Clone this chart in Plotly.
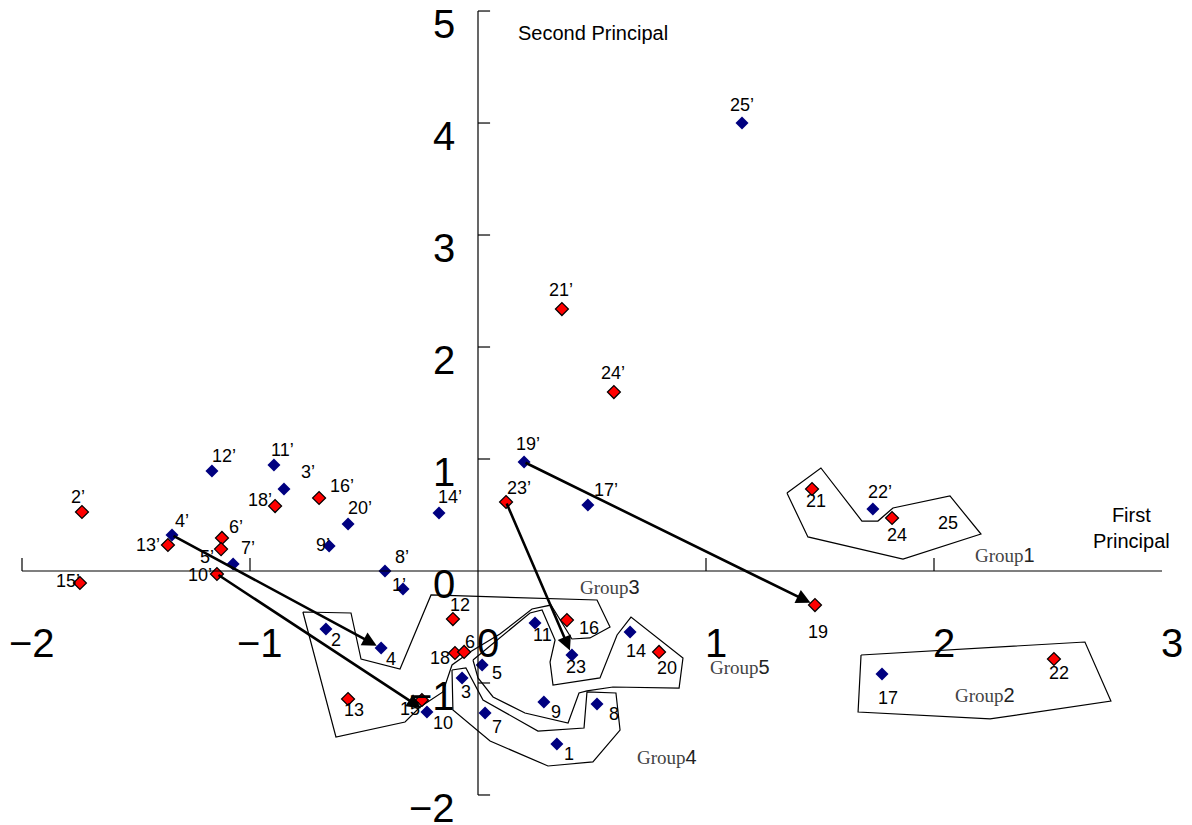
import plotly.graph_objects as go

# ---------------- data ----------------
blue_names = ["12’", "11’", "3’", "20’", "14’", "4’", "7’", "9’", "8’", "1’",
              "19’", "17’", "25’", "22’", "17", "2", "4", "5", "3", "10",
              "7", "9", "8", "1", "11", "23", "14"]
blue_x = [-1.167, -0.895, -0.851, -0.570, -0.171, -1.342, -1.074, -0.653, -0.408, -0.329,
          0.202, 0.482, 1.158, 1.732, 1.772, -0.667, -0.425, 0.018, -0.070, -0.224,
          0.031, 0.289, 0.522, 0.346, 0.250, 0.412, 0.667]
blue_y = [0.893, 0.946, 0.732, 0.420, 0.518, 0.321, 0.063, 0.223, 0.000, -0.161,
          0.973, 0.589, 4.000, 0.554, -0.920, -0.518, -0.688, -0.839, -0.955, -1.259,
          -1.268, -1.170, -1.188, -1.545, -0.464, -0.750, -0.545]

red_names = ["2’", "18’", "16’", "13’", "6’", "5’", "10’", "15’", "23’", "21’",
             "24’", "21", "24", "19", "22", "12", "18", "6", "13", "15", "16", "20"]
red_x = [-1.737, -0.890, -0.697, -1.360, -1.123, -1.127, -1.145, -1.746, 0.123, 0.368,
         0.596, 1.465, 1.816, 1.478, 2.526, -0.110, -0.101, -0.061, -0.570, -0.246, 0.390, 0.794]
red_y = [0.527, 0.580, 0.652, 0.232, 0.295, 0.196, -0.027, -0.107, 0.616, 2.339,
         1.598, 0.732, 0.473, -0.304, -0.786, -0.429, -0.732, -0.723, -1.143, -1.152, -0.438, -0.723]

# label without a visible marker
extra_names = ["25"]
extra_x = [2.061]
extra_y = [0.429]

# arrows: (from, to)
arrow_from = ["4’", "10’", "19’", "23’"]
arrow_to = ["4", "10", "19", "23"]

# group outlines
group1_x = [1.355, 1.504, 1.684, 1.754, 1.820, 2.070, 2.206, 1.864, 1.447]
group1_y = [0.696, 0.920, 0.446, 0.446, 0.563, 0.670, 0.330, 0.107, 0.304]
group2_x = [1.680, 2.662, 2.776, 2.246, 1.667]
group2_y = [-0.750, -0.634, -1.161, -1.321, -1.259]
group3_x = [-0.768, -0.557, -0.513, -0.342, -0.206, 0.522, 0.579, 0.491, 0.412, 0.320,
            0.237, 0.096, -0.035, -0.114, -0.154, -0.254, -0.320, -0.623]
group3_y = [-0.366, -0.375, -0.786, -0.875, -0.214, -0.259, -0.500, -0.598, -0.607, -0.304,
            -0.339, -0.563, -0.723, -0.839, -1.080, -1.214, -1.348, -1.482]
group4_x = [-0.114, -0.053, 0.022, 0.263, 0.465, 0.478, 0.605, 0.623, 0.504, 0.307, 0.053, -0.110]
group4_y = [-0.884, -0.866, -1.152, -1.429, -1.402, -1.080, -1.089, -1.420, -1.705, -1.741, -1.518, -1.241]
group5_x = [-0.022, 0.096, 0.228, 0.281, 0.338, 0.316, 0.329, 0.535, 0.610, 0.671,
            0.899, 0.882, 0.592, 0.478, 0.443, 0.395, 0.206, 0.066, 0.000]
group5_y = [-0.795, -0.598, -0.375, -0.348, -0.616, -0.813, -1.018, -0.955, -0.571, -0.411,
            -0.777, -1.045, -1.036, -1.071, -1.089, -1.357, -1.268, -1.125, -0.955]

group_names = ["Group", "Group", "Group", "Group", "Group"]
group_nums = ["1", "2", "3", "4", "5"]
group_label_x = [2.311, 2.224, 0.579, 0.829, 1.149]
group_label_y = [0.143, -1.107, -0.143, -1.661, -0.857]

x_ticks = [-2, -1, 0, 1, 2, 3]
x_tick_text = ["−2", "−1", "0", "1", "2", "3"]
y_ticks = [-2, -1, 0, 1, 2, 3, 4, 5]
y_tick_text = ["−2", "−1", "0", "1", "2", "3", "4", "5"]

x_title = "First<br>Principal"
y_title = "Second Principal"

# ---------------- layout helpers (pixel offsets of labels) ----------------
label_offset = {
    "12’": (12, -15), "11’": (9, -15), "3’": (24, -17), "20’": (12, -16), "14’": (11, -16),
    "4’": (10, -14), "7’": (15, -16), "9’": (-6, -1), "8’": (17, -14), "1’": (-4, -4),
    "19’": (4, -18), "17’": (18, -15), "25’": (0, -18), "22’": (7, -17), "17": (6, 24),
    "2": (10, 11), "4": (10, 11), "5": (15, 8), "3": (4, 14), "10": (16, 11),
    "7": (12, 14), "9": (12, 10), "8": (17, 10), "1": (12, 10), "11": (7, 12),
    "23": (4, 12), "14": (6, 19),
    "2’": (-4, -15), "18’": (-15, -6), "16’": (23, -12), "13’": (-20, 0), "6’": (14, -11),
    "5’": (-14, 8), "10’": (-17, 1), "15’": (-12, -2), "23’": (13, -14), "21’": (-1, -19),
    "24’": (-1, -19), "21": (4, 12), "24": (5, 17), "19": (3, 27), "22": (5, 14),
    "12": (7, -14), "18": (-15, 5), "6": (6, -10), "13": (6, 11), "15": (-12, 9),
    "16": (22, 8), "20": (8, 16), "25": (0, 0),
}
arrow_standoff = {"4": 5, "10": 7, "19": 5, "23": 5}

LABEL_FONT = dict(family="Liberation Sans, Arial, sans-serif", size=18, color="black")
TICK_FONT = dict(family="Liberation Sans, Arial, sans-serif", size=40, color="black")
TITLE_FONT = dict(family="Liberation Sans, Arial, sans-serif", size=20, color="black")

fig = go.Figure()

# group outlines
for gx, gy in [(group1_x, group1_y), (group2_x, group2_y), (group3_x, group3_y),
               (group4_x, group4_y), (group5_x, group5_y)]:
    fig.add_trace(go.Scatter(x=gx + gx[:1], y=gy + gy[:1], mode="lines",
                             line=dict(color="black", width=1.2),
                             hoverinfo="skip", showlegend=False))

# points
fig.add_trace(go.Scatter(x=blue_x, y=blue_y, mode="markers",
                         marker=dict(symbol="diamond", size=10, color="#000080",
                                     line=dict(width=0)),
                         text=blue_names, showlegend=False))
fig.add_trace(go.Scatter(x=red_x, y=red_y, mode="markers",
                         marker=dict(symbol="diamond", size=10, color="#ff0000",
                                     line=dict(width=1.2, color="black")),
                         text=red_names, showlegend=False))

annotations = []
# point labels
for names, xs, ys in [(blue_names, blue_x, blue_y), (red_names, red_x, red_y),
                      (extra_names, extra_x, extra_y)]:
    for n, x, y in zip(names, xs, ys):
        dx, dy = label_offset.get(n, (8, 12))
        annotations.append(dict(x=x, y=y, text=n, showarrow=False, font=LABEL_FONT,
                                xanchor="center", yanchor="middle",
                                xshift=dx, yshift=-dy))

# arrows
all_pts = {}
for names, xs, ys in [(blue_names, blue_x, blue_y), (red_names, red_x, red_y)]:
    for n, x, y in zip(names, xs, ys):
        all_pts[n] = (x, y)
for a, b in zip(arrow_from, arrow_to):
    (x0, y0), (x1, y1) = all_pts[a], all_pts[b]
    annotations.append(dict(x=x1, y=y1, ax=x0, ay=y0, xref="x", yref="y",
                            axref="x", ayref="y", text="", showarrow=True,
                            arrowhead=2, arrowsize=1.1, arrowwidth=2.6,
                            arrowcolor="black", standoff=arrow_standoff[b]))

# group labels
for gname, gnum, gx, gy in zip(group_names, group_nums, group_label_x, group_label_y):
    annotations.append(dict(
        x=gx, y=gy, showarrow=False, xanchor="center", yanchor="middle",
        text=gname + "<span style='font-family:Liberation Sans, Arial;font-size:20px;color:#222'>"
             + gnum + "</span>",
        font=dict(family="Liberation Serif, Times New Roman, serif", size=19, color="#444")))

# tick labels (crossing axes)
for v, t in zip(x_ticks, x_tick_text):
    annotations.append(dict(x=v, y=-0.64, text=t, showarrow=False, font=TICK_FONT,
                            xanchor="center", yanchor="middle", xshift=10))
for v, t in zip(y_ticks, y_tick_text):
    annotations.append(dict(x=-0.09, y=v - 0.12, text=t, showarrow=False, font=TICK_FONT,
                            xanchor="right", yanchor="middle"))

# axis titles
annotations.append(dict(x=0.167, y=4.80, text=y_title, showarrow=False,
                        xanchor="left", yanchor="middle", font=TITLE_FONT))
annotations.append(dict(x=2.868, y=0.384, text=x_title, showarrow=False,
                        xanchor="center", yanchor="middle", align="center",
                        font=TITLE_FONT))

# axis lines and tick marks
shapes = [
    dict(type="line", x0=min(x_ticks), x1=max(x_ticks), y0=0, y1=0,
         line=dict(color="black", width=1.2)),
    dict(type="line", x0=0, x1=0, y0=min(y_ticks), y1=max(y_ticks),
         line=dict(color="black", width=1.2)),
]
for v in x_ticks:
    if v not in (0, max(x_ticks)):
        shapes.append(dict(type="line", x0=v, x1=v, y0=0, y1=0.116,
                           line=dict(color="black", width=1.2)))
for v in y_ticks:
    if v != 0:
        shapes.append(dict(type="line", x0=0, x1=0.053, y0=v, y1=v,
                           line=dict(color="black", width=1.2)))

# the page body has an 8px margin, so the figure is slightly smaller and offset
fig.update_layout(
    width=1184, height=817,
    margin=dict(l=0, r=0, t=0, b=0),
    paper_bgcolor="white", plot_bgcolor="white",
    xaxis=dict(range=[-2.0614, 3.1316], visible=False, fixedrange=True),
    yaxis=dict(range=[-2.268, 5.027], visible=False, fixedrange=True),
    annotations=annotations, shapes=shapes, showlegend=False,
)

fig.write_html("out.html")
